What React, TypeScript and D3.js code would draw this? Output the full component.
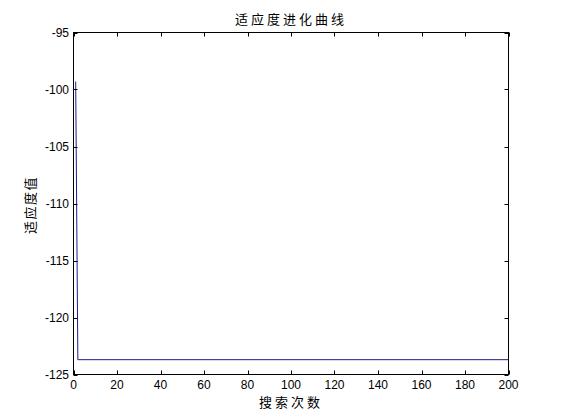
import * as d3 from 'd3'

// best fitness per search step (breakpoints of the curve; flat after step 2)
const steps = [1, 2, 200]
const fitness = [-99.3, -123.7, -123.7]

const xTicks = [0, 20, 40, 60, 80, 100, 120, 140, 160, 180, 200]
const yTicks = [-125, -120, -115, -110, -105, -100, -95]

const title = '适应度进化曲线'
const xLabel = '搜索次数'
const yLabel = '适应度值'

const W = 561
const H = 420
const left = 73.5
const right = 508.5
const top = 32.5
const bottom = 374.5
const tickLen = 4

const cjk = '"Noto Sans CJK SC", "Noto Sans", sans-serif'
const latin = '"Liberation Sans", Arial, sans-serif'

export default function App() {
  const x = d3.scaleLinear().domain([0, 200]).range([left, right])
  const y = d3.scaleLinear().domain([-125, -95]).range([bottom, top])

  const pts = steps.map((s, i) => [s, fitness[i]] as [number, number])
  const line = d3.line<[number, number]>()
    .x(d => x(d[0]))
    .y(d => y(d[1]))

  return (
    <svg width={W} height={H} style={{ position: 'absolute', left: 0, top: 0, background: '#fff' }}>
      <rect x={0} y={0} width={W} height={H} fill="#fff" />

      <path d={line(pts) || ''} fill="none" stroke="#1c1c8c" strokeWidth={1} />

      {/* box */}
      <rect x={left} y={top} width={right - left} height={bottom - top} fill="none" stroke="#000" strokeWidth={1} />

      {xTicks.map(t => (
        <g key={'x' + t}>
          <line x1={Math.round(x(t)) + 0.5} x2={Math.round(x(t)) + 0.5} y1={bottom} y2={bottom - tickLen} stroke="#000" />
          <line x1={Math.round(x(t)) + 0.5} x2={Math.round(x(t)) + 0.5} y1={top} y2={top + tickLen} stroke="#000" />
          <text x={x(t)} y={389} textAnchor="middle" fontFamily={latin} fontSize={12} fill="#000">{t}</text>
        </g>
      ))}

      {yTicks.map(t => (
        <g key={'y' + t}>
          <line x1={left} x2={left + tickLen} y1={Math.round(y(t)) + 0.5} y2={Math.round(y(t)) + 0.5} stroke="#000" />
          <line x1={right} x2={right - tickLen} y1={Math.round(y(t)) + 0.5} y2={Math.round(y(t)) + 0.5} stroke="#000" />
          <text x={69} y={y(t)} dy="0.36em" textAnchor="end" fontFamily={latin} fontSize={12} fill="#000">{t}</text>
        </g>
      ))}

      <text x={(left + right) / 2} y={24} textAnchor="middle" fontFamily={cjk} fontSize={13} letterSpacing={3} fill="#000">{title}</text>
      <text x={(left + right) / 2} y={407} textAnchor="middle" fontFamily={cjk} fontSize={13} letterSpacing={3} fill="#000">{xLabel}</text>
      <text transform={`translate(34.5,205) rotate(-90)`} textAnchor="middle" fontFamily={cjk} fontSize={13} letterSpacing={1.5} fill="#000">{yLabel}</text>
    </svg>
  )
}
